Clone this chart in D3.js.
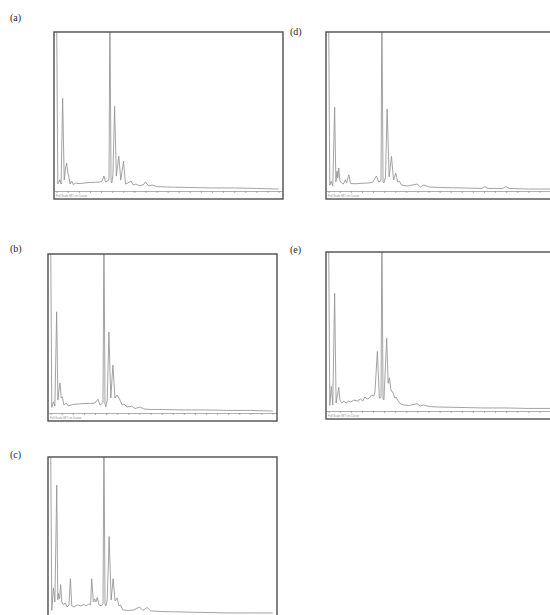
<!DOCTYPE html>
<html>
<head>
<meta charset="utf-8">
<script src="https://cdn.jsdelivr.net/npm/d3@7"></script>
<style>
  body { margin: 0; background: #fff; }
  svg { display: block; }
</style>
</head>
<body>
<div id="chart"></div>
<script>
// EDX spectra, [energy keV, counts as % of full scale]
const spectrumA = [[0,110],[0.1,4],[0.2,5],[0.3,6.5],[0.4,3.8],[0.54,58.4],[0.68,6.3],[0.8,14],[0.9,17.1],[1.0,11.4],
  [1.1,8.4],[1.2,3.8],[1.35,5.7],[1.5,3.5],[1.7,4.4],[2.0,4.1],[2.5,4.4],[3.0,4.8],[3.5,4.9],[3.9,5.1],
  [4.1,5.7],[4.26,8.9],[4.4,5.1],[4.6,5.7],[4.72,7],[4.8,120],[4.9,6],[4.97,4.4],[5.07,9.5],[5.22,53.3],[5.38,8.9],[5.6,21.6],
  [5.78,6.3],[6.03,18.4],[6.2,3.8],[6.4,4.4],[6.7,5.7],[6.9,3.2],[7.14,3.8],[7.4,2.9],[7.8,3.2],[8.0,5.1],
  [8.3,2.5],[8.6,3.2],[9.0,2.2],[10,1.9],[12,1.6],[14,1.3],[16,1.3],[18,1.0],[20,0.6]];

const spectrumB = [[0,110],[0.1,3],[0.24,6.5],[0.38,3.8],[0.54,63.8],[0.65,7.6],[0.75,14],[0.84,18.6],[0.95,8.9],[1.05,9.7],
  [1.2,4.4],[1.4,5.7],[1.6,3.8],[2.0,4.8],[2.5,5.1],[3.0,5.4],[3.5,5.4],[4.0,5.7],[4.26,8.1],[4.45,4.4],
  [4.72,6],[4.8,120],[4.9,5],[4.97,3.4],[5.1,7.6],[5.25,51],[5.42,8.9],[5.61,29.9],[5.8,8.9],[6.0,10.8],[6.25,7.6],[6.45,4.4],
  [6.6,5.1],[6.9,3.2],[7.3,3.8],[7.6,2.2],[8.05,3.2],[8.4,1.9],[9,1.6],[10,1.6],[12,1.3],[14,1.3],
  [16,1.0],[18,1.0],[20,0.6]];

const spectrumC = [[0,110],[0.1,3],[0.25,17.3],[0.38,8.3],[0.55,82.7],[0.64,9.6],[0.7,13.7],[0.8,10.3],[0.9,19.4],[1.0,8.3],
  [1.15,6.4],[1.3,7.7],[1.5,5.1],[1.65,6.4],[1.78,23.1],[1.9,5.8],[2.1,5.1],[2.4,6.4],[2.7,5.8],[3.0,6.7],
  [3.2,5.8],[3.45,7.1],[3.6,6.4],[3.7,23.1],[3.85,8.3],[3.97,10.3],[4.08,8.3],[4.2,11.2],[4.35,6.4],[4.55,5.8],
  [4.72,7],[4.8,120],[4.9,7],[4.98,5.8],[5.1,9.6],[5.27,50],[5.45,9.6],[5.63,23.1],[5.8,9.0],[6.0,10.9],[6.15,5.8],[6.3,6.4],
  [6.5,3.2],[7.0,2.9],[7.5,3.2],[8.0,5.1],[8.3,2.9],[8.7,4.8],[9.0,2.6],[10,2.2],[12,1.9],[14,1.6],
  [16,1.3],[18,1.3],[20,1.3]];

const spectrumD = [[0,110],[0.1,3],[0.23,5.5],[0.37,2.5],[0.54,52.6],[0.65,5.1],[0.75,12.1],[0.83,7.6],[0.91,14],[1.02,5.7],
  [1.17,4.4],[1.32,3.8],[1.51,6.5],[1.62,4.4],[1.82,9.7],[1.97,4.1],[2.5,4.0],[3.0,4.3],[3.5,4.4],[3.95,4.8],
  [4.3,8.9],[4.52,5.1],[4.72,6],[4.8,120],[4.9,5],[4.98,4.4],[5.12,8],[5.27,51.7],[5.45,8.3],[5.66,21.4],[5.85,6.4],[6.05,10.8],[6.22,5.1],
  [6.37,5.7],[6.57,3.2],[7.07,2.5],[7.97,3.8],[8.27,1.9],[8.57,3.2],[9.07,1.9],[10,1.6],[12,1.3],[13.8,1.0],
  [14.07,2.2],[14.35,1.0],[15.7,1.0],[15.97,2.2],[16.25,1.0],[18,0.6],[20,0.6]];

const spectrumE = [[0,110],[0.1,3],[0.24,15],[0.37,3.2],[0.54,74.3],[0.67,4.4],[0.79,9.5],[0.91,14.4],[1.02,6.3],[1.17,4.4],
  [1.37,5.7],[1.57,4.4],[1.77,5.7],[1.97,5.1],[2.27,6.3],[2.57,5.7],[2.87,7.0],[3.07,5.7],[3.27,8.3],[3.47,7.0],
  [3.67,7.6],[3.87,9.5],[4.07,8.9],[4.17,11.4],[4.39,37.3],[4.57,7.6],[4.72,8],[4.8,120],[4.9,7],[4.98,6.3],[5.23,45.7],[5.36,17],
  [5.48,20.5],[5.6,13],[5.81,10.8],[5.97,7.6],[6.07,8.3],[6.27,5.7],[6.47,3.8],[6.77,3.2],[7.27,2.9],[7.97,4.0],
  [8.27,2.5],[8.57,3.2],[9.07,2.2],[10,1.9],[12,1.6],[14,1.3],[16,1.3],[18,1.0],[20,1.0]];

const panelLabels = ["(a)", "(b)", "(c)", "(d)", "(e)"];
const energyTicks = d3.range(0, 21);

// where each frame sits on the page (status line only where it is on screen)
const panels = [
  { label: panelLabels[0], data: spectrumA, left: 54,  top: 32,  lx: 10,  ly: 21,  status: true },
  { label: panelLabels[1], data: spectrumB, left: 48,  top: 254, lx: 10,  ly: 252, status: true },
  { label: panelLabels[2], data: spectrumC, left: 48,  top: 457, lx: 10,  ly: 458, status: false },
  { label: panelLabels[3], data: spectrumD, left: 326, top: 32,  lx: 290, ly: 35,  status: true },
  { label: panelLabels[4], data: spectrumE, left: 326, top: 252, lx: 290, ly: 253, status: true }
];

const W = 550, H = 615;
const frameW = 229, frameH = 167, axisGap = 9;

const svg = d3.select("#chart").append("svg")
  .attr("width", W)
  .attr("height", H);

panels.forEach((p, i) => {
  const x = d3.scaleLinear()
    .domain([-0.24, 20.4])
    .range([p.left, p.left + frameW]);

  const y = d3.scaleLinear()
    .domain([0, 100])
    .range([p.top + frameH - axisGap, p.top + 1]);

  svg.append("clipPath")
    .attr("id", "clip" + i)
    .append("rect")
    .attr("x", p.left)
    .attr("y", p.top)
    .attr("width", frameW)
    .attr("height", frameH);

  const g = svg.append("g").attr("clip-path", `url(#clip${i})`);

  // energy axis line with tiny ticks (numbers unreadable in the original)
  const xAxis = d3.axisBottom(x)
    .tickValues(energyTicks)
    .tickSize(2)
    .tickSizeOuter(0)
    .tickFormat("");

  const ax = g.append("g")
    .attr("transform", `translate(0,${y(0) + 1})`)
    .call(xAxis);
  ax.select(".domain").attr("stroke", "#9a9a9a").attr("stroke-width", 0.8);
  ax.selectAll(".tick line").attr("stroke", "#8f8f8f").attr("stroke-width", 0.7);

  // spectrum trace
  const line = d3.line()
    .x(d => x(d[0]))
    .y(d => y(d[1]));

  g.append("path")
    .datum(p.data)
    .attr("fill", "none")
    .attr("stroke", "#929292")
    .attr("stroke-width", 0.85)
    .attr("d", line);

  // little status text bottom-left
  if (p.status) {
    g.append("text")
      .attr("x", p.left + 2)
      .attr("y", p.top + frameH - 2.5)
      .attr("font-family", "'Liberation Sans', sans-serif")
      .attr("font-size", 2.8)
      .attr("fill", "#888")
      .text("Full Scale 987 cts Cursor");
  }

  // frame
  svg.append("rect")
    .attr("x", p.left)
    .attr("y", p.top)
    .attr("width", frameW)
    .attr("height", frameH)
    .attr("fill", "none")
    .attr("stroke", "#4d4d4d")
    .attr("stroke-width", 1.4);

  svg.append("text")
    .attr("x", p.lx)
    .attr("y", p.ly)
    .attr("font-family", "'Liberation Serif', 'DejaVu Serif', serif")
    .attr("font-size", 10)
    .attr("fill", "#222")
    .text(p.label);
});
</script>
</body>
</html>
